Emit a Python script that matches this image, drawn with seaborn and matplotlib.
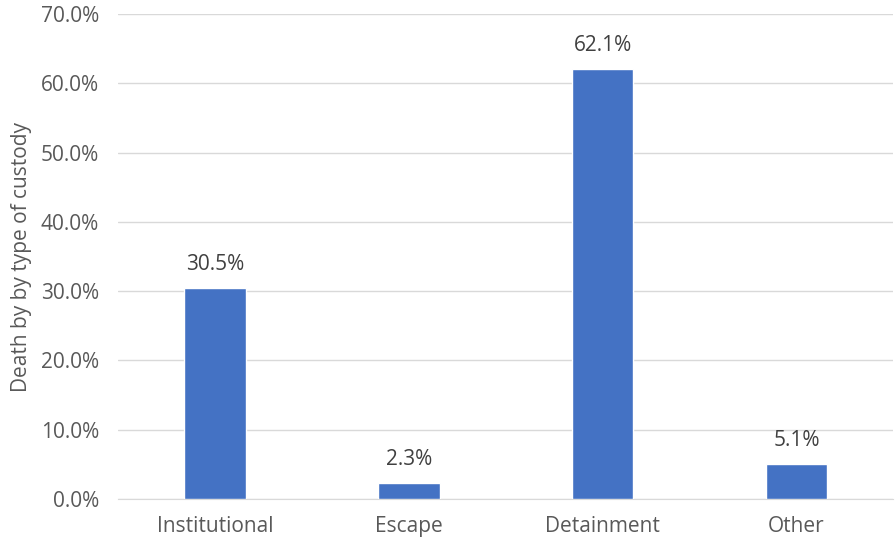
import matplotlib
matplotlib.use("Agg")
import matplotlib.pyplot as plt
import seaborn as sns
import pandas as pd
from matplotlib.ticker import PercentFormatter

categories = ["Institutional", "Escape", "Detainment", "Other"]
shares = [30.5, 2.3, 62.1, 5.1]
yticks = [0, 10, 20, 30, 40, 50, 60, 70]

df = pd.DataFrame({"custody": categories, "share": shares})

sns.set_style("white")
plt.rcParams["font.family"] = ["Open Sans", "DejaVu Sans"]
text_col = "#595959"
fs = 15

fig = plt.figure(figsize=(8.96, 5.43), dpi=100)
ax = fig.add_axes([0.132, 0.081, 0.865, 0.893])

sns.barplot(data=df, x="custody", y="share", color="#4472C4",
            width=0.318, saturation=1, ax=ax, zorder=3)

for p, v in zip(ax.patches, shares):
    ax.text(p.get_x() + p.get_width() / 2, v + 1.9, f"{v:.1f}%",
            ha="center", va="bottom", fontsize=fs, color="#404040")

ax.set_ylim(0, 70)
ax.set_yticks(yticks)
ax.yaxis.set_major_formatter(PercentFormatter(decimals=1))
ax.grid(axis="y", color="#D9D9D9", linewidth=1, zorder=0)
for s in ["top", "right", "left"]:
    ax.spines[s].set_visible(False)
ax.spines["bottom"].set_color("#D9D9D9")
ax.tick_params(axis="both", length=0, labelsize=fs, colors=text_col)
ax.tick_params(axis="y", pad=14)
ax.tick_params(axis="x", pad=12)
ax.set_xlabel("")
ax.set_ylabel("Death by by type of custody", fontsize=fs, color=text_col, labelpad=6)

fig.savefig("out.png", dpi=100)
